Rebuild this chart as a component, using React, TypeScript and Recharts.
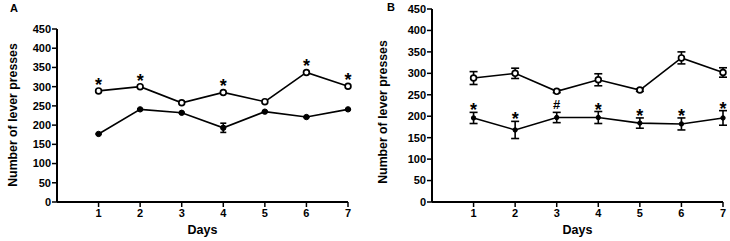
import React from 'react';
import { LineChart, Line, XAxis, YAxis, ErrorBar, LabelList } from 'recharts';

const days = [1, 2, 3, 4, 5, 6, 7];
const yTicks = [0, 50, 100, 150, 200, 250, 300, 350, 400, 450];

// Panel A
const openA = [289, 300, 258, 285, 261, 337, 301];
const openAErr = [1, 1, 1, 1, 1, 1, 1];
const filledA = [177, 241, 232, 193, 235, 221, 241];
const filledAErr = [1, 1, 1, 12, 1, 1, 1];
const sigA = ['*', '*', '', '*', '', '*', '*'];

// Panel B
const openB = [289, 300, 258, 285, 261, 336, 302];
const openBErr = [15, 12, 3, 14, 3, 14, 11];
const filledB = [196, 168, 197, 197, 184, 182, 196];
const filledBErr = [13, 20, 12, 14, 12, 14, 17];
const sigB = ['*', '*', '#', '*', '*', '*', '*'];

const dataA = days.map((d, i) => ({ day: d, open: openA[i], openErr: openAErr[i], filled: filledA[i], filledErr: filledAErr[i], sig: sigA[i] }));
const dataB = days.map((d, i) => ({ day: d, open: openB[i], openErr: openBErr[i], filled: filledB[i], filledErr: filledBErr[i], top: filledB[i] + filledBErr[i], sig: sigB[i] }));

const FONT = '"Liberation Sans", Arial, Helvetica, sans-serif';
const tickStyle = { fontFamily: FONT, fontSize: 11, fontWeight: 700, fill: '#000' };

const SigLabelA = (props: any) => {
  const { x, y, value } = props;
  if (!value) return null;
  return (
    <text x={x} y={y} textAnchor="middle" fontFamily={FONT} fontWeight={700} fontSize={18} fill="#000">{value}</text>
  );
};

const SigLabelB = (props: any) => {
  const { x, y, value } = props;
  if (!value) return null;
  const isHash = value === '#';
  return (
    <text x={x} y={y + (isHash ? -3 : 4)} textAnchor="middle" fontFamily={FONT} fontWeight={700} fontSize={isHash ? 13 : 18} fill="#000">{value}</text>
  );
};

const yLabel = (cx: number, cy: number) => (props: any) => (
  <text x={cx} y={cy} transform={`rotate(-90, ${cx}, ${cy})`} textAnchor="middle" dominantBaseline="central" fontFamily={FONT} fontWeight={700} fontSize={12.3} fill="#000">Number of lever presses</text>
);

const xLabel = (props: any) => {
  const vb = props.viewBox;
  return (
    <text x={vb.x + vb.width / 2} y={234} textAnchor="middle" fontFamily={FONT} fontWeight={700} fontSize={12.5} fill="#000">Days</text>
  );
};

const OpenDot = (r: number) => (props: any) => {
  const { cx, cy, index } = props;
  return <circle key={index} cx={cx} cy={cy} r={r} fill="#fff" stroke="#000" strokeWidth={1.7} />;
};
const FilledDot = (r: number) => (props: any) => {
  const { cx, cy, index } = props;
  return <circle key={index} cx={cx} cy={cy} r={r} fill="#000" stroke="#000" strokeWidth={1} />;
};

export default function App() {
  return (
    <div style={{ position: 'absolute', left: 0, top: 0, width: 730, height: 241, background: '#fff' }}>
      <div style={{ position: 'absolute', left: 0, top: 0 }}>
        <LineChart width={365} height={241} data={dataA} margin={{ top: 29, right: 17, left: 0, bottom: 0 }}>
          <text x={10} y={12} fontFamily={FONT} fontWeight={700} fontSize={11} fill="#000">A</text>
          <XAxis dataKey="day" type="number" domain={[0, 7]} ticks={days} height={39} tick={tickStyle} tickSize={5} stroke="#000" strokeWidth={2} tickLine={{ stroke: '#000', strokeWidth: 1.5 }} label={xLabel} />
          <YAxis type="number" domain={[0, 450]} ticks={yTicks} width={57} tick={tickStyle} tickSize={5} tickMargin={1} stroke="#000" strokeWidth={2} tickLine={{ stroke: '#000', strokeWidth: 1.5 }} interval={0} label={yLabel(13, 115)} />
          <Line dataKey="filled" stroke="#000" strokeWidth={1.6} dot={FilledDot(2.7)} activeDot={false} isAnimationActive={false}>
            <ErrorBar dataKey="filledErr" width={3} stroke="#000" strokeWidth={1.6} direction="y" />
          </Line>
          <Line dataKey="open" stroke="#000" strokeWidth={1.6} dot={OpenDot(2.9)} activeDot={false} isAnimationActive={false}>
            <ErrorBar dataKey="openErr" width={2.5} stroke="#000" strokeWidth={1.2} direction="y" />
            <LabelList dataKey="sig" content={SigLabelA} />
          </Line>
        </LineChart>
      </div>
      <div style={{ position: 'absolute', left: 365, top: 0 }}>
        <LineChart width={365} height={241} data={dataB} margin={{ top: 9, right: 7, left: 0, bottom: 0 }}>
          <text x={22} y={11} fontFamily={FONT} fontWeight={700} fontSize={11} fill="#000">B</text>
          <XAxis dataKey="day" type="number" domain={[0, 7]} ticks={days} height={39} tick={tickStyle} tickSize={5} stroke="#000" strokeWidth={2} tickLine={{ stroke: '#000', strokeWidth: 1.5 }} label={xLabel} />
          <YAxis type="number" domain={[0, 450]} ticks={yTicks} width={67} tick={tickStyle} tickSize={5} tickMargin={1} stroke="#000" strokeWidth={2} tickLine={{ stroke: '#000', strokeWidth: 1.5 }} interval={0} label={yLabel(18, 112)} />
          <Line dataKey="filled" stroke="#000" strokeWidth={1.6} dot={FilledDot(2.2)} activeDot={false} isAnimationActive={false}>
            <ErrorBar dataKey="filledErr" width={4} stroke="#000" strokeWidth={1.6} direction="y" />
          </Line>
          <Line dataKey="open" stroke="#000" strokeWidth={1.6} dot={OpenDot(2.9)} activeDot={false} isAnimationActive={false}>
            <ErrorBar dataKey="openErr" width={4} stroke="#000" strokeWidth={1.6} direction="y" />
          </Line>
          <Line dataKey="top" stroke="none" dot={false} activeDot={false} isAnimationActive={false}>
            <LabelList dataKey="sig" content={SigLabelB} />
          </Line>
        </LineChart>
      </div>
    </div>
  );
}
